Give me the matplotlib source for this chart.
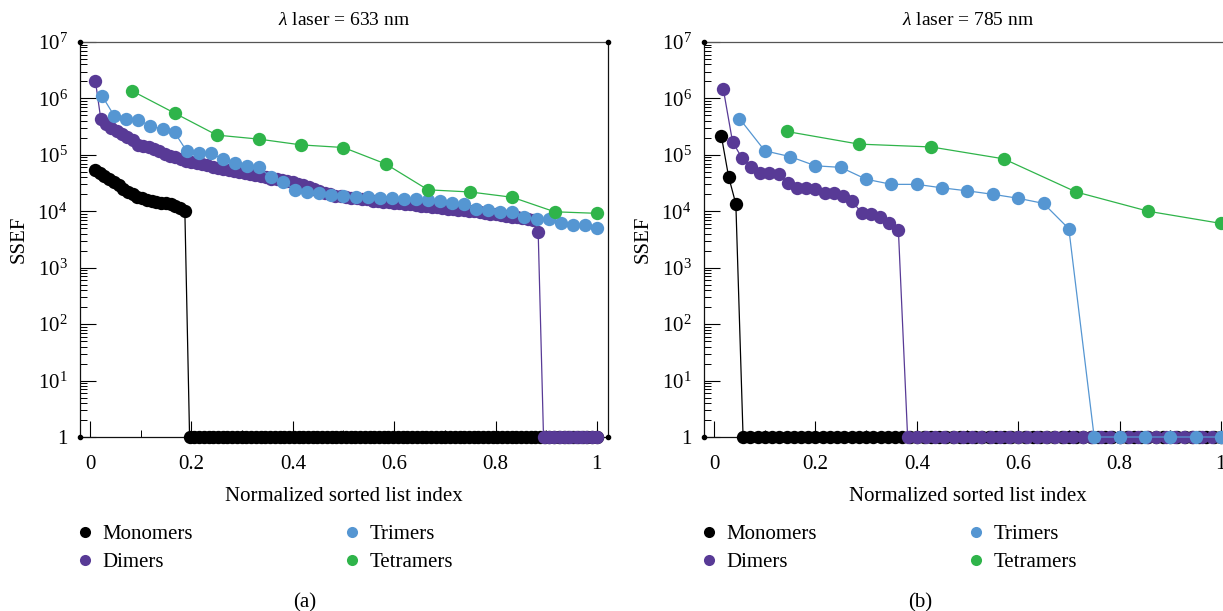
import numpy as np
import matplotlib
matplotlib.use("Agg")
import matplotlib.pyplot as plt
from matplotlib.lines import Line2D
from matplotlib.ticker import FuncFormatter, LogLocator, MultipleLocator, NullFormatter

plt.rcParams['font.family'] = ['Liberation Serif', 'DejaVu Serif']
plt.rcParams['mathtext.fontset'] = 'custom'
plt.rcParams['mathtext.rm'] = 'Liberation Serif'
plt.rcParams['mathtext.it'] = 'Liberation Serif:italic'

# ---------------------------------------------------------------------------
# Data: SSEF of every particle, sorted in decreasing order.  Only non-zero
# values are listed; the remaining entries of each list (up to *_count) are 0
# and are drawn on the floor of the log axis (SSEF = 1).
# ---------------------------------------------------------------------------
series_names = ["Monomers", "Dimers", "Trimers", "Tetramers"]
series_colors = ["#000000", "#583a96", "#5596d2", "#2fb44a"]

# lambda laser = 633 nm
mono_633 = [5.5e4, 4.7e4, 4.2e4, 3.8e4, 3.3e4, 2.9e4, 2.5e4, 2.2e4, 2.0e4, 1.8e4,
            1.7e4, 1.6e4, 1.5e4, 1.45e4, 1.4e4, 1.38e4, 1.32e4, 1.23e4, 1.15e4, 1.02e4]
mono_633_count = 107
dimer_633 = [2.0e6, 4.3e5, 3.5e5, 3.0e5, 2.6e5, 2.35e5, 2.1e5, 1.8e5, 1.5e5, 1.45e5,
             1.4e5, 1.25e5, 1.15e5, 1.05e5, 9.5e4, 9.0e4, 8.3e4, 7.8e4, 7.4e4, 7.1e4,
             6.8e4, 6.5e4, 6.2e4, 5.9e4, 5.6e4, 5.4e4, 5.1e4, 5.0e4, 4.8e4, 4.6e4,
             4.4e4, 4.2e4, 4.0e4, 3.8e4, 3.7e4, 3.55e4, 3.4e4, 3.25e4, 3.1e4, 2.9e4,
             2.7e4, 2.5e4, 2.3e4, 2.15e4, 2.0e4, 1.9e4, 1.85e4, 1.8e4, 1.75e4, 1.7e4,
             1.66e4, 1.62e4, 1.55e4, 1.5e4, 1.48e4, 1.45e4, 1.42e4, 1.38e4, 1.35e4, 1.32e4,
             1.29e4, 1.26e4, 1.23e4, 1.2e4, 1.17e4, 1.15e4, 1.12e4, 1.1e4, 1.07e4, 1.05e4,
             1.02e4, 1.0e4, 9.8e3, 9.5e3, 9.1e3, 8.9e3, 8.5e3, 8.3e3, 8.0e3, 7.8e3,
             7.6e3, 7.4e3, 7.1e3, 4.3e3]
dimer_633_count = 95
trimer_633 = [1.1e6, 4.9e5, 4.3e5, 4.2e5, 3.2e5, 2.9e5, 2.5e5, 1.17e5, 1.07e5, 1.07e5,
              8.4e4, 7.1e4, 6.4e4, 6.0e4, 4.0e4, 3.3e4, 2.4e4, 2.2e4, 2.1e4, 1.95e4,
              1.9e4, 1.8e4, 1.77e4, 1.74e4, 1.7e4, 1.65e4, 1.63e4, 1.6e4, 1.5e4, 1.4e4,
              1.35e4, 1.1e4, 1.05e4, 9.9e3, 9.6e3, 8.0e3, 7.3e3, 7.2e3, 6.3e3, 5.7e3,
              5.7e3, 5.0e3]
trimer_633_count = 42
tetramer_633 = [1.35e6, 5.5e5, 2.24e5, 1.9e5, 1.5e5, 1.35e5, 6.9e4, 2.4e4, 2.2e4, 1.77e4,
                9.8e3, 9.2e3]
tetramer_633_count = 12

# lambda laser = 785 nm
mono_785 = [2.15e5, 4.1e4, 1.35e4]
mono_785_count = 70
dimer_785 = [1.45e6, 1.7e5, 8.9e4, 6.2e4, 4.8e4, 4.8e4, 4.5e4, 3.2e4, 2.6e4, 2.6e4,
             2.45e4, 2.1e4, 2.1e4, 1.9e4, 1.5e4, 9.4e3, 8.9e3, 8.0e3, 6.3e3, 4.6e3]
dimer_785_count = 55
trimer_785 = [4.4e5, 1.18e5, 9.3e4, 6.4e4, 6.0e4, 3.7e4, 3.0e4, 3.0e4, 2.6e4, 2.3e4,
              2.0e4, 1.7e4, 1.38e4, 4.9e3]
trimer_785_count = 20
tetramer_785 = [2.6e5, 1.55e5, 1.38e5, 8.5e4, 2.2e4, 1.0e4, 6.1e3]
tetramer_785_count = 7

panel_titles = [r"$\lambda$ laser = 633 nm", r"$\lambda$ laser = 785 nm"]
panel_captions = ["(a)", "(b)"]
x_ticks = [0, 0.2, 0.4, 0.6, 0.8, 1.0]
x_tick_labels = ["0", "0.2", "0.4", "0.6", "0.8", "1"]

panels = [
    [(mono_633, mono_633_count), (dimer_633, dimer_633_count),
     (trimer_633, trimer_633_count), (tetramer_633, tetramer_633_count)],
    [(mono_785, mono_785_count), (dimer_785, dimer_785_count),
     (trimer_785, trimer_785_count), (tetramer_785, tetramer_785_count)],
]

FLOOR = 1.0  # zero SSEF is shown on the bottom of the log axis
FS = 15

W, H = 1223, 611
fig = plt.figure(figsize=(W / 100, H / 100), dpi=100)
fig.patch.set_facecolor("white")

axes_px = [(80, 608), (704, 1232)]   # left/right edges of the plot boxes
top_px, bottom_px = 42, 437


def ytick_fmt(v, _pos):
    if v <= 0:
        return ""
    e = int(round(np.log10(v)))
    if e == 0:
        return "1"
    return r"$10^{%d}$" % e


for k, (series, (l, r)) in enumerate(zip(panels, axes_px)):
    ax = fig.add_axes([l / W, 1 - bottom_px / H, (r - l) / W, (bottom_px - top_px) / H])
    for (vals, count), color, z in zip(series, series_colors, [3, 4, 5, 6]):
        y = np.array(list(vals) + [0.0] * (count - len(vals)))
        x = np.arange(1, count + 1) / count
        y_plot = np.where(y > 0, y, FLOOR)
        ax.plot(x, y_plot, "-", color=color, lw=0.9, zorder=z, clip_on=False)
        ax.plot(x, y_plot, "o", color=color, ms=9.6, mew=0, zorder=z, clip_on=False)

    ax.set_yscale("log")
    ax.set_ylim(1, 1e7)
    ax.set_xlim(-0.02, 1.022)

    ax.yaxis.set_major_locator(LogLocator(base=10, numticks=20))
    ax.yaxis.set_major_formatter(FuncFormatter(ytick_fmt))
    ax.yaxis.set_minor_locator(LogLocator(base=10, subs=np.arange(2, 10), numticks=100))
    ax.yaxis.set_minor_formatter(NullFormatter())
    ax.set_xticks(x_ticks)
    ax.set_xticklabels(x_tick_labels)
    ax.xaxis.set_minor_locator(MultipleLocator(0.1))

    ax.tick_params(which="major", direction="in", length=11.5, width=0.8,
                   labelsize=FS, top=False, right=False)
    ax.tick_params(which="minor", direction="in", length=5, width=0.7,
                   top=False, right=False)
    ax.tick_params(axis="x", which="major", pad=13)
    ax.tick_params(axis="y", which="major", pad=9)

    for side in ["left", "bottom", "right"]:
        ax.spines[side].set_color("#111111")
        ax.spines[side].set_linewidth(0.9)
    ax.spines["top"].set_color("#555555")
    ax.spines["top"].set_linewidth(0.9)

    # small dots at the frame corners
    corners = [(0, 0), (0, 1), (1, 0), (1, 1)]
    for cx, cy in corners:
        ax.plot([cx], [cy], "o", color="black", ms=3, transform=ax.transAxes,
                clip_on=False, zorder=10)

    ax.set_title(panel_titles[k], fontsize=14, pad=12)
    ax.set_xlabel("Normalized sorted list index", fontsize=FS, labelpad=9)
    ax.set_ylabel("SSEF", fontsize=FS, labelpad=6)

    # legend: two columns of dots and labels
    handles = [Line2D([], [], marker="o", ls="none", color=c, markersize=8, mew=0)
               for c in series_colors]
    col_x = [l + 5, l + 272]
    for j in range(2):
        fig.legend(handles[2 * j:2 * j + 2], series_names[2 * j:2 * j + 2],
                   loc="center left",
                   bbox_to_anchor=((col_x[j] - 8) / W, 1 - 548.5 / H),
                   frameon=False, fontsize=FS, handlelength=0.8, handletextpad=0.42,
                   borderpad=0, borderaxespad=0, labelspacing=0.4)

    fig.text([305, 920][k] / W, 1 - 603 / H, panel_captions[k], ha="center",
             va="center", fontsize=FS)

fig.savefig("out.png", dpi=100, facecolor="white")
